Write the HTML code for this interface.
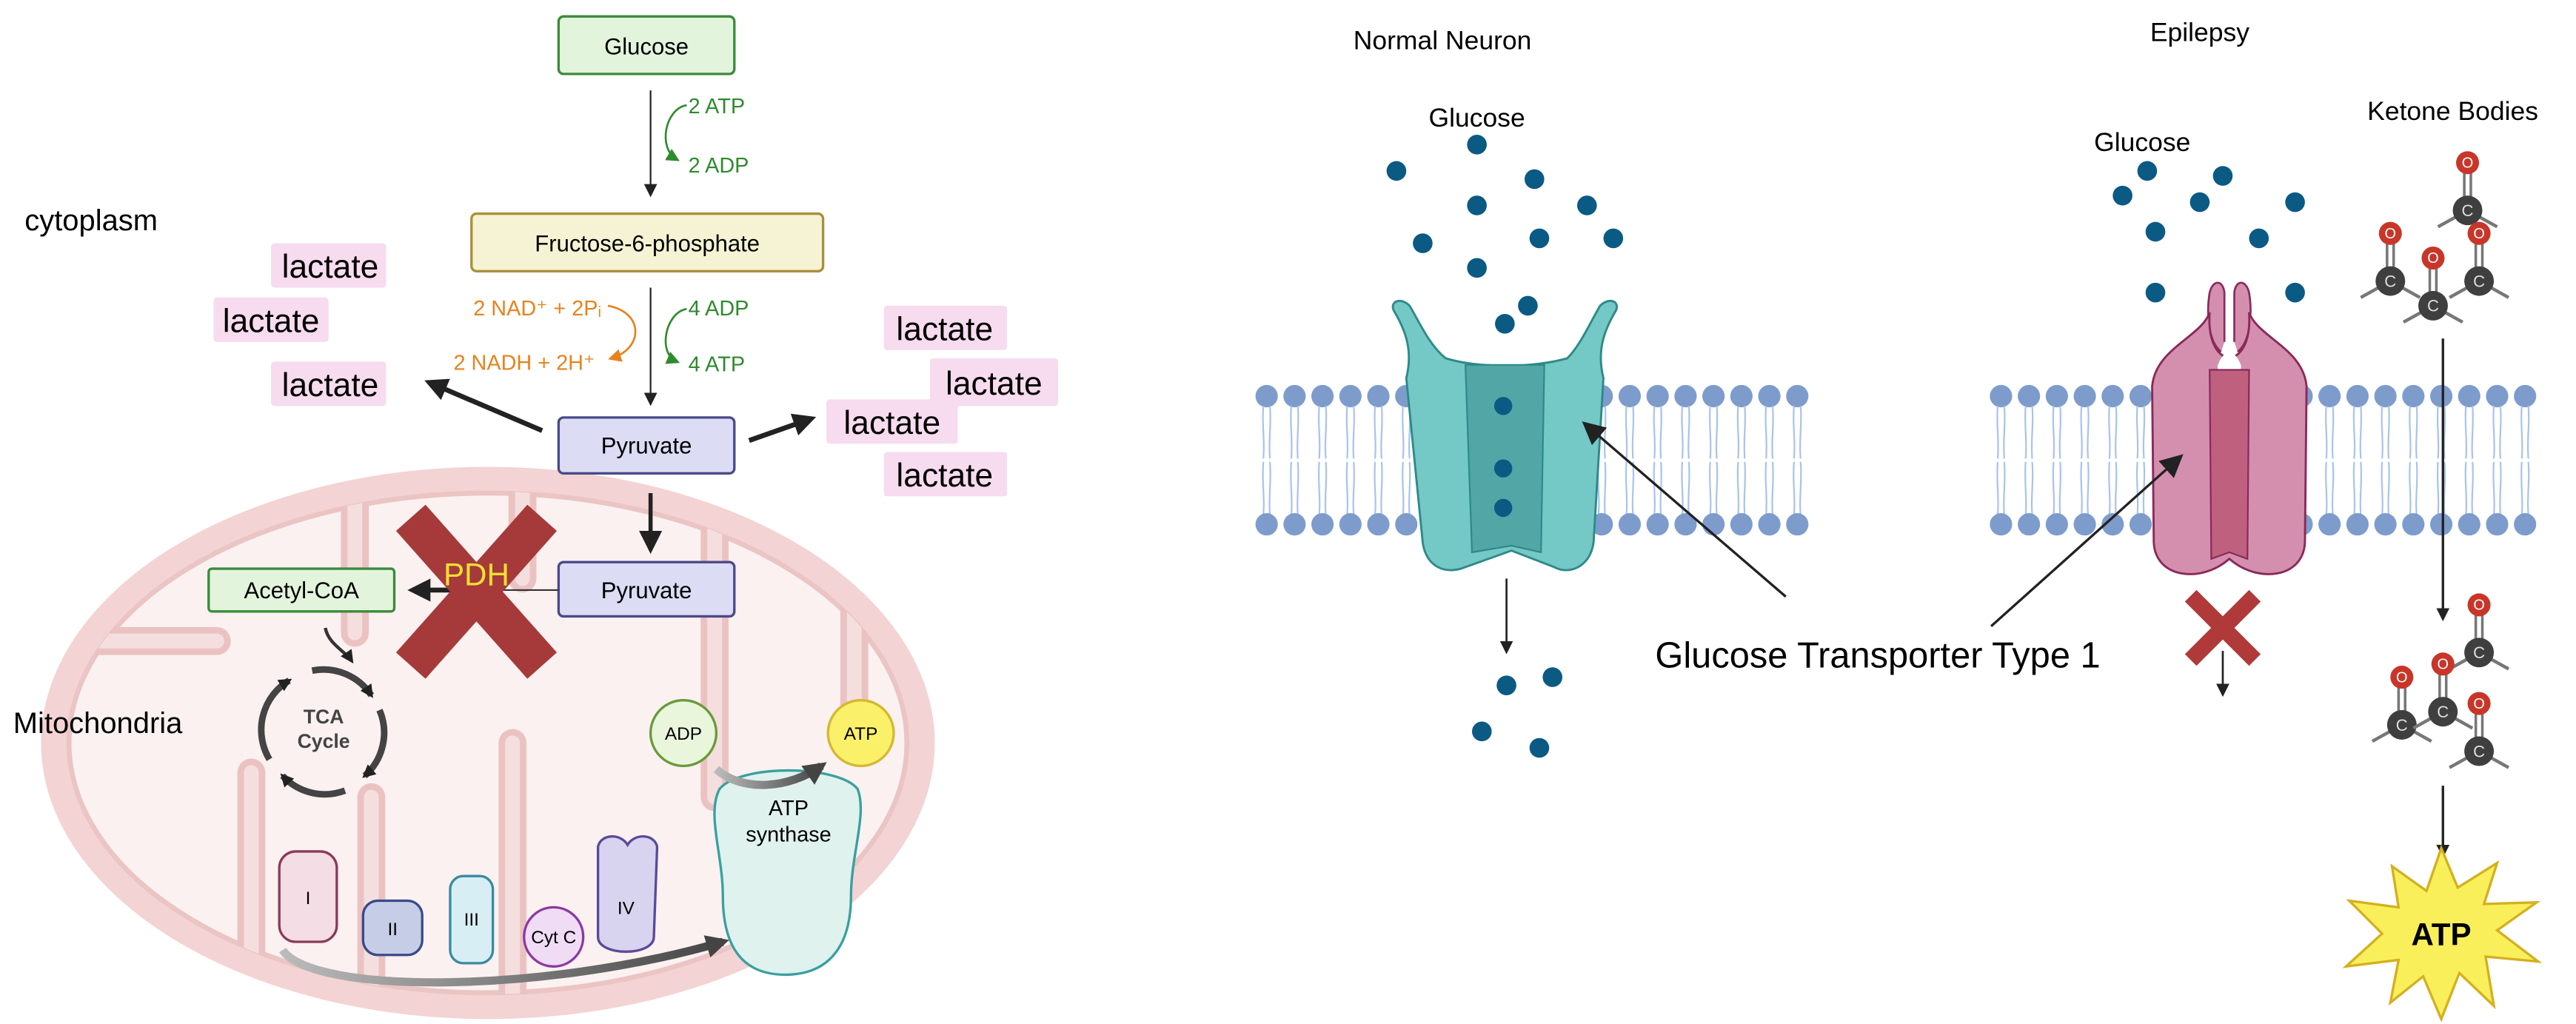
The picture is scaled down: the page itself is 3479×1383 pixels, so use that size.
<!DOCTYPE html>
<html><head><meta charset="utf-8"><style>
html,body{margin:0;padding:0;background:#fff}
svg{display:block}
text{font-family:"Liberation Sans",sans-serif}
</style></head><body>
<svg width="3479" height="1383" viewBox="0 0 1568 623" preserveAspectRatio="none" xmlns="http://www.w3.org/2000/svg">
<defs>
<marker id="ah" markerWidth="8" markerHeight="8" refX="6" refY="4" orient="auto" markerUnits="userSpaceOnUse"><path d="M0,0 L8,4 L0,8 z" fill="#222"/></marker>
<marker id="ahb" markerWidth="16" markerHeight="16" refX="10" refY="8" orient="auto" markerUnits="userSpaceOnUse"><path d="M0,1 L14,8 L0,15 z" fill="#222"/></marker>
<marker id="ahg" markerWidth="8" markerHeight="8" refX="6" refY="4" orient="auto" markerUnits="userSpaceOnUse"><path d="M0,0 L8,4 L0,8 z" fill="#2e8b2e"/></marker>
<marker id="aho" markerWidth="8" markerHeight="8" refX="6" refY="4" orient="auto" markerUnits="userSpaceOnUse"><path d="M0,0 L8,4 L0,8 z" fill="#e8821e"/></marker>
<marker id="ahgr" markerWidth="16" markerHeight="16" refX="10" refY="8" orient="auto" markerUnits="userSpaceOnUse"><path d="M0,1 L14,8 L0,15 z" fill="#444"/></marker>
<linearGradient id="gl" x1="0" x2="1"><stop offset="0" stop-color="#bbb"/><stop offset="1" stop-color="#444"/></linearGradient>
<clipPath id="inner"><ellipse cx="297" cy="452" rx="256" ry="153"/></clipPath>
<g id="ket"><line x1="0" y1="0" x2="-18" y2="10" stroke="#777" stroke-width="2"/><line x1="0" y1="0" x2="18" y2="10" stroke="#777" stroke-width="2"/><line x1="-2" y1="0" x2="-2" y2="-29" stroke="#777" stroke-width="1.6"/><line x1="2" y1="0" x2="2" y2="-29" stroke="#777" stroke-width="1.6"/><circle cx="0" cy="-29" r="7" fill="#c8362a"/><text x="0" y="-26" font-size="9" fill="#fff" text-anchor="middle">O</text><circle cx="0" cy="0" r="9" fill="#3f3f3f"/><text x="0" y="3.5" font-size="10" fill="#ddd" text-anchor="middle">C</text></g>
<g id="lip"><circle cx="0" cy="0" r="6.8" fill="#7d9ccc"/><path d="M-2,6 C-3,18 -1,26 -2,38 M2,6 C3,18 1,26 2,38" stroke="#a9c3ee" stroke-width="1" fill="none"/><path d="M-2,40 C-3,52 -1,62 -2,72 M2,40 C3,52 1,62 2,72" stroke="#a9c3ee" stroke-width="1" fill="none"/><circle cx="0" cy="78" r="6.8" fill="#7d9ccc"/></g>
</defs>

<!-- ============ LEFT: mitochondrion ============ -->
<ellipse cx="297" cy="452" rx="272" ry="168" fill="#f3d3d3"/>
<ellipse cx="297" cy="452" rx="255" ry="152" fill="#fbf1f1" stroke="#ebc4c4" stroke-width="3"/>
<g stroke-linecap="round" fill="none" clip-path="url(#inner)">
<g stroke="#ebc2c2" stroke-width="17">
<path d="M216,280 L216,385"/><path d="M318,280 L318,352"/><path d="M435,280 L435,485"/><path d="M520,280 L520,450"/>
<path d="M153,625 L153,470"/><path d="M226,625 L226,485"/><path d="M312,625 L312,452"/><path d="M20,390 L132,390"/>
</g>
<g stroke="#f5dede" stroke-width="9">
<path d="M216,280 L216,385"/><path d="M318,280 L318,352"/><path d="M435,280 L435,485"/><path d="M520,280 L520,450"/>
<path d="M153,625 L153,470"/><path d="M226,625 L226,485"/><path d="M312,625 L312,452"/><path d="M20,390 L132,390"/>
</g>
</g>

<!-- glycolysis -->
<rect x="340" y="10" width="107" height="35" rx="3" fill="#e3f4dc" stroke="#3c8a3c" stroke-width="1.5"/>
<text x="393.5" y="33" font-size="14" text-anchor="middle">Glucose</text>
<line x1="396" y1="55" x2="396" y2="118" stroke="#222" stroke-width="1" marker-end="url(#ah)"/>
<path d="M418,64 C405,66 400,90 412,97" stroke="#2e8b2e" stroke-width="1.2" fill="none" marker-end="url(#ahg)"/>
<text x="419" y="69" font-size="13" fill="#2e8b2e">2 ATP</text>
<text x="419" y="105" font-size="13" fill="#2e8b2e">2 ADP</text>

<rect x="287" y="130" width="214" height="35" rx="3" fill="#f5f3d3" stroke="#a8913a" stroke-width="1.5"/>
<text x="394" y="153" font-size="14" text-anchor="middle">Fructose-6-phosphate</text>
<line x1="396" y1="175" x2="396" y2="245" stroke="#222" stroke-width="1" marker-end="url(#ah)"/>
<path d="M370,186 C392,190 392,212 372,218" stroke="#e8821e" stroke-width="1.2" fill="none" marker-end="url(#aho)"/>
<path d="M418,188 C405,190 400,215 412,220" stroke="#2e8b2e" stroke-width="1.2" fill="none" marker-end="url(#ahg)"/>
<text x="366" y="192" font-size="13" fill="#e8821e" text-anchor="end">2 NAD⁺ + 2Pᵢ</text>
<text x="362" y="225" font-size="13" fill="#e8821e" text-anchor="end">2 NADH + 2H⁺</text>
<text x="419" y="192" font-size="13" fill="#2e8b2e">4 ADP</text>
<text x="419" y="226" font-size="13" fill="#2e8b2e">4 ATP</text>

<text x="15" y="140" font-size="18">cytoplasm</text>

<g fill="#f6dcee">
<rect x="165" y="148" width="70" height="27" rx="2"/><rect x="130" y="181" width="70" height="27" rx="2"/><rect x="165" y="220" width="70" height="27" rx="2"/>
<rect x="538" y="186" width="75" height="27" rx="2"/><rect x="566" y="218" width="78" height="29" rx="2"/><rect x="503" y="243" width="80" height="27" rx="2"/><rect x="538" y="275" width="75" height="27" rx="2"/>
</g>
<g font-size="20" text-anchor="middle">
<text x="201" y="169">lactate</text><text x="165" y="202">lactate</text><text x="201" y="241">lactate</text>
<text x="575" y="207">lactate</text><text x="605" y="240">lactate</text><text x="543" y="264">lactate</text><text x="575" y="296">lactate</text>
</g>
<line x1="330" y1="262" x2="262" y2="233" stroke="#222" stroke-width="3" marker-end="url(#ahb)"/>
<line x1="456" y1="268" x2="493" y2="255" stroke="#222" stroke-width="3" marker-end="url(#ahb)"/>

<rect x="340" y="254" width="107" height="34" rx="3" fill="#dcdcf5" stroke="#4a4a8a" stroke-width="1.5"/>
<text x="393.5" y="276" font-size="14" text-anchor="middle">Pyruvate</text>
<line x1="396" y1="300" x2="396" y2="333" stroke="#222" stroke-width="2.5" marker-end="url(#ahb)"/>
<rect x="340" y="342" width="107" height="33" rx="3" fill="#dcdcf5" stroke="#4a4a8a" stroke-width="1.5"/>
<text x="393.5" y="364" font-size="14" text-anchor="middle">Pyruvate</text>

<rect x="127" y="346" width="113" height="26" rx="2" fill="#e3f4dc" stroke="#3c8a3c" stroke-width="1.5"/>
<text x="183.5" y="364" font-size="14" text-anchor="middle">Acetyl-CoA</text>
<line x1="340" y1="359" x2="250" y2="359" stroke="#333" stroke-width="1"/>
<line x1="275" y1="359" x2="252" y2="359" stroke="#222" stroke-width="3" marker-end="url(#ahb)"/>
<g stroke="#a63a3a" stroke-width="24" stroke-linecap="square">
<line x1="258" y1="324" x2="322" y2="396"/><line x1="322" y1="324" x2="258" y2="396"/>
</g>
<text x="290" y="356" font-size="19" fill="#f2e030" text-anchor="middle">PDH</text>

<!-- TCA -->
<path d="M198,382 C200,392 210,396 214,402" stroke="#333" stroke-width="2" fill="none" marker-end="url(#ah)"/>
<g stroke="#444" stroke-width="4" fill="none">
<path d="M190,408 A35,35 0 0 1 226,423" marker-end="url(#ah)"/>
<path d="M231,432 A35,35 0 0 1 222,472" marker-end="url(#ah)"/>
<path d="M210,481 A35,35 0 0 1 172,472" marker-end="url(#ah)"/>
<path d="M164,462 A35,35 0 0 1 176,414" marker-end="url(#ah)"/>
</g>
<text x="197" y="440" font-size="12" fill="#444" text-anchor="middle" font-weight="bold">TCA</text>
<text x="197" y="455" font-size="12" fill="#444" text-anchor="middle" font-weight="bold">Cycle</text>
<text x="8" y="446" font-size="18">Mitochondria</text>

<!-- ATP synthase -->
<path d="M438,480 C450,465 510,465 522,480 C528,495 518,520 518,545 C518,575 505,593 478,593 C451,593 440,575 440,545 C440,520 430,495 438,480 Z" fill="#e0f2ee" stroke="#3aa0a0" stroke-width="1.5"/>
<text x="480" y="496" font-size="13" text-anchor="middle">ATP</text>
<text x="480" y="512" font-size="13" text-anchor="middle">synthase</text>
<circle cx="416" cy="446" r="20" fill="#eaf6dc" stroke="#6a9a3a" stroke-width="1.5"/>
<text x="416" y="450" font-size="11" text-anchor="middle">ADP</text>
<circle cx="524" cy="446" r="20" fill="#fbf06a" stroke="#d4b830" stroke-width="1.5"/>
<text x="524" y="450" font-size="11" text-anchor="middle">ATP</text>
<path d="M436,468 C452,482 480,480 500,466" stroke="url(#gl)" stroke-width="5" fill="none" marker-end="url(#ahgr)"/>

<!-- complexes -->
<rect x="170" y="518" width="35" height="55" rx="10" fill="#f5dde5" stroke="#8a3a5a" stroke-width="1.5"/>
<text x="187.5" y="550" font-size="11" text-anchor="middle">I</text>
<rect x="221" y="548" width="36" height="33" rx="9" fill="#c6cde6" stroke="#3a4a8a" stroke-width="1.5"/>
<text x="239" y="569" font-size="11" text-anchor="middle">II</text>
<rect x="274" y="533" width="26" height="53" rx="8" fill="#d8eef5" stroke="#3a8aa0" stroke-width="1.5"/>
<text x="287" y="563" font-size="11" text-anchor="middle">III</text>
<circle cx="337" cy="570" r="18" fill="#f0dcf5" stroke="#8a3aa0" stroke-width="1.5"/>
<text x="337" y="574" font-size="11" text-anchor="middle">Cyt C</text>
<path d="M364,515 C366,507 378,507 382,514 C386,507 398,507 400,515 L398,570 C398,582 364,582 364,570 Z" fill="#d8d4ef" stroke="#5a4a9a" stroke-width="1.5"/>
<text x="381" y="556" font-size="11" text-anchor="middle">IV</text>
<path d="M172,578 C190,605 330,605 440,573" stroke="url(#gl)" stroke-width="5" fill="none" marker-end="url(#ahgr)"/>

<!-- ============ RIGHT ============ -->
<text x="878" y="30" font-size="16" text-anchor="middle">Normal Neuron</text>
<text x="899" y="77" font-size="16" text-anchor="middle">Glucose</text>
<text x="1339" y="25" font-size="16" text-anchor="middle">Epilepsy</text>
<text x="1304" y="92" font-size="16" text-anchor="middle">Glucose</text>
<text x="1493" y="73" font-size="16" text-anchor="middle">Ketone Bodies</text>

<!-- membranes -->
<g>
<use href="#lip" x="771" y="241"/><use href="#lip" x="788" y="241"/><use href="#lip" x="805" y="241"/><use href="#lip" x="822" y="241"/><use href="#lip" x="839" y="241"/><use href="#lip" x="856" y="241"/>
<use href="#lip" x="975" y="241"/><use href="#lip" x="992" y="241"/><use href="#lip" x="1009" y="241"/><use href="#lip" x="1026" y="241"/><use href="#lip" x="1043" y="241"/><use href="#lip" x="1060" y="241"/><use href="#lip" x="1077" y="241"/><use href="#lip" x="1094" y="241"/>
<use href="#lip" x="1218" y="241"/><use href="#lip" x="1235" y="241"/><use href="#lip" x="1252" y="241"/><use href="#lip" x="1269" y="241"/><use href="#lip" x="1286" y="241"/><use href="#lip" x="1303" y="241"/>
<use href="#lip" x="1401" y="241"/><use href="#lip" x="1418" y="241"/><use href="#lip" x="1435" y="241"/><use href="#lip" x="1452" y="241"/><use href="#lip" x="1469" y="241"/><use href="#lip" x="1486" y="241"/><use href="#lip" x="1503" y="241"/><use href="#lip" x="1520" y="241"/><use href="#lip" x="1537" y="241"/>
</g>

<!-- teal transporter -->
<path d="M849,190 C845,184 852,180 858,186 C864,196 870,210 880,218 C900,224 932,224 954,218 C962,210 968,196 974,186 C980,180 987,184 983,190 C976,202 972,214 976,230 L970,330 C968,345 955,350 946,345 L920,335 L892,345 C880,350 868,345 866,330 L856,230 C860,214 856,202 849,190 Z" fill="#74c8c6" stroke="#2e8a88" stroke-width="1.3"/>
<path d="M892,222 L940,222 L938,336 L920,332 L896,336 Z" fill="#52a6a6" stroke="#2e8a88" stroke-width="1"/>
<g fill="#0b5a84">
<circle cx="915" cy="247" r="5.5"/><circle cx="915" cy="285" r="5.5"/><circle cx="915" cy="309" r="5.5"/>
<circle cx="899" cy="88" r="6"/><circle cx="850" cy="104" r="6"/><circle cx="934" cy="109" r="6"/><circle cx="899" cy="125" r="6"/><circle cx="966" cy="125" r="6"/><circle cx="866" cy="148" r="6"/><circle cx="937" cy="145" r="6"/><circle cx="982" cy="145" r="6"/><circle cx="899" cy="163" r="6"/><circle cx="930" cy="186" r="6"/><circle cx="916" cy="197" r="6"/>
<circle cx="917" cy="417" r="6"/><circle cx="945" cy="412" r="6"/><circle cx="902" cy="445" r="6"/><circle cx="937" cy="455" r="6"/>
<circle cx="1307" cy="104" r="6"/><circle cx="1353" cy="107" r="6"/><circle cx="1292" cy="119" r="6"/><circle cx="1339" cy="123" r="6"/><circle cx="1397" cy="123" r="6"/><circle cx="1312" cy="141" r="6"/><circle cx="1375" cy="145" r="6"/><circle cx="1312" cy="178" r="6"/><circle cx="1397" cy="178" r="6"/>
</g>
<line x1="917" y1="352" x2="917" y2="396" stroke="#222" stroke-width="1.2" marker-end="url(#ah)"/>

<!-- pink transporter -->
<path d="M1352,214 C1344,208 1343,190 1345,178 C1347,170 1353,170 1354,178 L1354,208 M1360,208 L1360,178 C1361,170 1367,170 1369,178 C1371,190 1370,208 1362,214" fill="#d48fae" stroke="#8a2a5a" stroke-width="1.2"/>
<path d="M1345,190 C1340,205 1312,212 1310,235 L1311,330 C1312,352 1340,355 1357,340 C1374,355 1402,352 1403,330 L1404,235 C1402,212 1374,205 1369,190 C1370,205 1366,216 1357,218 C1348,216 1344,205 1345,190 Z" fill="#d48fae" stroke="#8a2a5a" stroke-width="1.3"/>
<path d="M1350,222 C1354,212 1360,212 1364,222 C1366,230 1348,230 1350,222 Z" fill="#fff"/>
<path d="M1345,225 L1369,225 L1368,340 L1357,336 L1346,340 Z" fill="#c0607f" stroke="#8a2a5a" stroke-width="1"/>

<!-- X and arrow -->
<g stroke="#b03a3a" stroke-width="10" stroke-linecap="square">
<line x1="1337" y1="366" x2="1369" y2="398"/><line x1="1369" y1="366" x2="1337" y2="398"/>
</g>
<line x1="1353" y1="396" x2="1353" y2="422" stroke="#222" stroke-width="1.2" marker-end="url(#ah)"/>

<!-- labels -->
<text x="1143" y="406" font-size="22" text-anchor="middle">Glucose Transporter Type 1</text>
<line x1="1087" y1="363" x2="966" y2="259" stroke="#222" stroke-width="1.5" marker-end="url(#ahb)"/>
<line x1="1212" y1="381" x2="1326" y2="279" stroke="#222" stroke-width="1.5" marker-end="url(#ahb)"/>

<!-- ketones -->
<use href="#ket" x="1502" y="128"/><use href="#ket" x="1455" y="171"/><use href="#ket" x="1509" y="171"/><use href="#ket" x="1481" y="186"/>
<line x1="1487" y1="206" x2="1487" y2="376" stroke="#222" stroke-width="1.5" marker-end="url(#ah)"/>
<use href="#ket" x="1509" y="397"/><use href="#ket" x="1462" y="441"/><use href="#ket" x="1487" y="433"/><use href="#ket" x="1509" y="457"/>
<line x1="1487" y1="478" x2="1487" y2="520" stroke="#222" stroke-width="1.5" marker-end="url(#ah)"/>

<!-- ATP star -->
<polygon points="1486,516 1496,540 1520,525 1512,550 1544,549 1520,566 1545,585 1513,582 1518,612 1497,592 1486,620 1475,594 1455,610 1460,584 1428,588 1450,568 1430,548 1460,552 1456,527 1477,542" fill="#f9ef5a" stroke="#d4b020" stroke-width="1.5"/>
<text x="1486" y="575" font-size="19" font-weight="bold" text-anchor="middle">ATP</text>
</svg>
</body></html>
